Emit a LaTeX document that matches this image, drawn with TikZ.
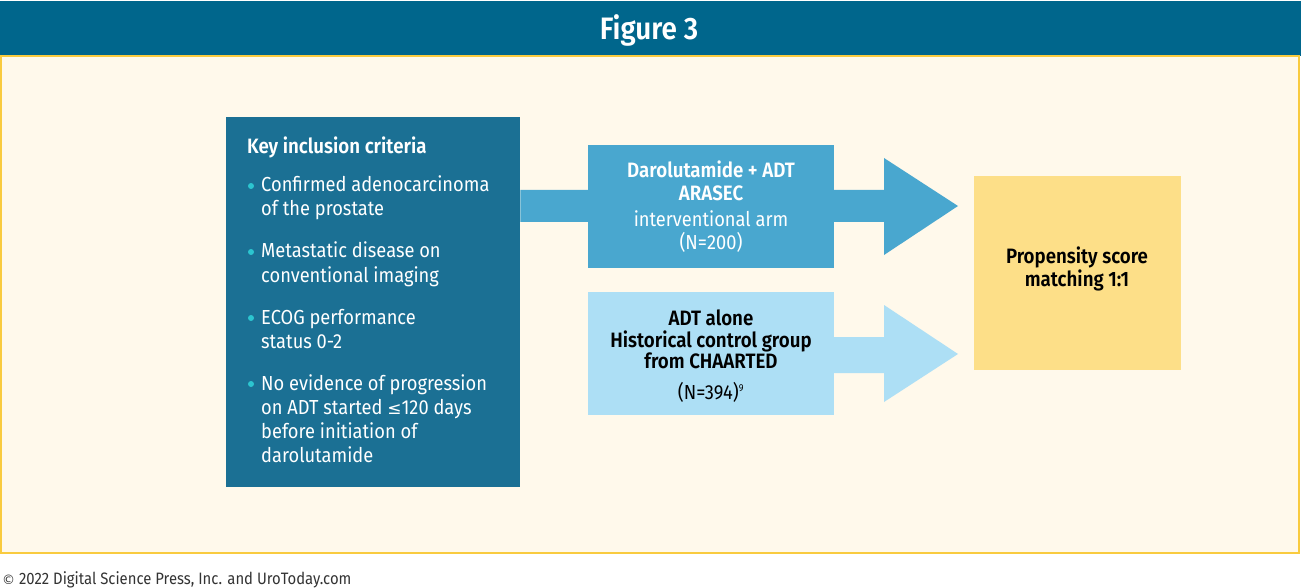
\documentclass[tikz,border=0pt]{standalone}
\usepackage{fontspec}
\setmainfont{Fira Sans}[FakeStretch=0.9, BoldFont={Fira Sans SemiBold}, BoldFeatures={FakeStretch=0.9}]
\newfontfamily\symfont{DejaVu Sans}
\definecolor{hdr}{HTML}{00668C}
\definecolor{cream}{HTML}{FFF9EB}
\definecolor{goldline}{HTML}{F9CB3F}
\definecolor{teal}{HTML}{1B7094}
\definecolor{midblue}{HTML}{49A7CF}
\definecolor{lightblue}{HTML}{ADDFF5}
\definecolor{sand}{HTML}{FDDF88}
\definecolor{bul}{HTML}{2CC5D0}
\definecolor{foot}{HTML}{333333}
\tikzset{
  boxA/.style={fill=teal, draw=none, inner sep=0pt, anchor=north west},
  boxB/.style={fill=midblue, draw=none, inner sep=0pt, anchor=north west},
  boxC/.style={fill=lightblue, draw=none, inner sep=0pt, anchor=north west},
  boxD/.style={fill=sand, draw=none, inner sep=0pt, anchor=north west},
  txt/.style={inner sep=0pt, font=\fontsize{20.3}{24}\selectfont},
  btxt/.style={inner sep=0pt, font=\fontsize{20.8}{24}\selectfont\bfseries},
  lft/.style={anchor=base west, text=white},
  ctr/.style={anchor=base},
  bulletdot/.style={circle, fill=bul, inner sep=0pt, minimum size=6pt},
}
\begin{document}
\begin{tikzpicture}[x=1pt,y=-1pt]
\useasboundingbox (0,0) rectangle (1301,588);
\fill[white] (0,0) rectangle (1301,588);
% header
\fill[hdr] (0,1) rectangle (1301,56);
\node[inner sep=0pt, anchor=base, text=white, font=\fontsize{31}{36}\selectfont\bfseries] (title) at (649,40) {Figure 3};
% panel
\draw[goldline, fill=cream, line width=2pt] (1,56) rectangle (1299,553);
% left box
\node[boxA, minimum width=294pt, minimum height=370pt] (crit) at (226,117) {};
\node[btxt, lft] (crith) at (247,154) {Key inclusion criteria};
\foreach \yy/\name in {186/b1, 252/b2, 318/b3, 384/b4} {
  \node[bulletdot] (\name) at (251,\yy) {};
}
\node[txt, lft] (t1a) at (261,192) {Confirmed adenocarcinoma};
\node[txt, lft] (t1b) at (261,216) {of the prostate};
\node[txt, lft] (t2a) at (261,258) {Metastatic disease on};
\node[txt, lft] (t2b) at (261,282) {conventional imaging};
\node[txt, lft] (t3a) at (261,324) {ECOG performance};
\node[txt, lft] (t3b) at (261,348) {status 0-2};
\node[txt, lft] (t4a) at (261,390) {No evidence of progression};
\node[txt, lft] (t4b) at (261,414) {on ADT started {\symfont\fontsize{17}{24}\selectfont ≤}120 days};
\node[txt, lft] (t4c) at (261,438) {before initiation of};
\node[txt, lft] (t4d) at (261,462) {darolutamide};
% arrows (behind boxes)
\fill[midblue] (crit.east |- 0,190) -- (884,190) -- (884,158) -- (958,206) -- (884,255) -- (884,222) -- (crit.east |- 0,222) -- cycle;
\fill[lightblue] (834,337) -- (884,337) -- (884,305) -- (958,354) -- (884,402) -- (884,373) -- (834,373) -- cycle;
% middle boxes
\node[boxB, minimum width=246pt, minimum height=123pt] (arm) at (588,145) {};
\node[btxt, ctr, text=white] (arm1) at (711,178) {Darolutamide + ADT};
\node[btxt, ctr, text=white] (arm2) at (711,201) {ARASEC};
\node[txt, ctr, text=white] (arm3) at (711,227) {interventional arm};
\node[txt, ctr, text=white] (arm4) at (711,249) {(N=200)};
\node[boxC, minimum width=246pt, minimum height=123pt] (ctl) at (588,292) {};
\node[btxt, ctr, text=black] (ctl1) at (711,325) {ADT alone};
\node[btxt, ctr, text=black] (ctl2) at (711,347) {Historical control group};
\node[btxt, ctr, text=black] (ctl3) at (711,368) {from CHAARTED};
\node[txt, ctr, text=black] (ctl4) at (711,399) {(N=394)\textsuperscript{\fontsize{10}{10}\selectfont 9}};
% result box
\node[boxD, minimum width=207pt, minimum height=194pt] (psm) at (974,176) {};
\node[btxt, ctr, text=black] (psm1) at (1077,263) {Propensity score};
\node[btxt, ctr, text=black] (psm2) at (1077,286) {matching 1:1};
% footer
\node[inner sep=0pt, anchor=base west, text=foot, font=\fontsize{16.5}{18}\selectfont] (footer) at (2,584) {{\symfont\fontsize{13}{18}\selectfont ©} 2022 Digital Science Press, Inc. and UroToday.com};
\end{tikzpicture}
\end{document}
